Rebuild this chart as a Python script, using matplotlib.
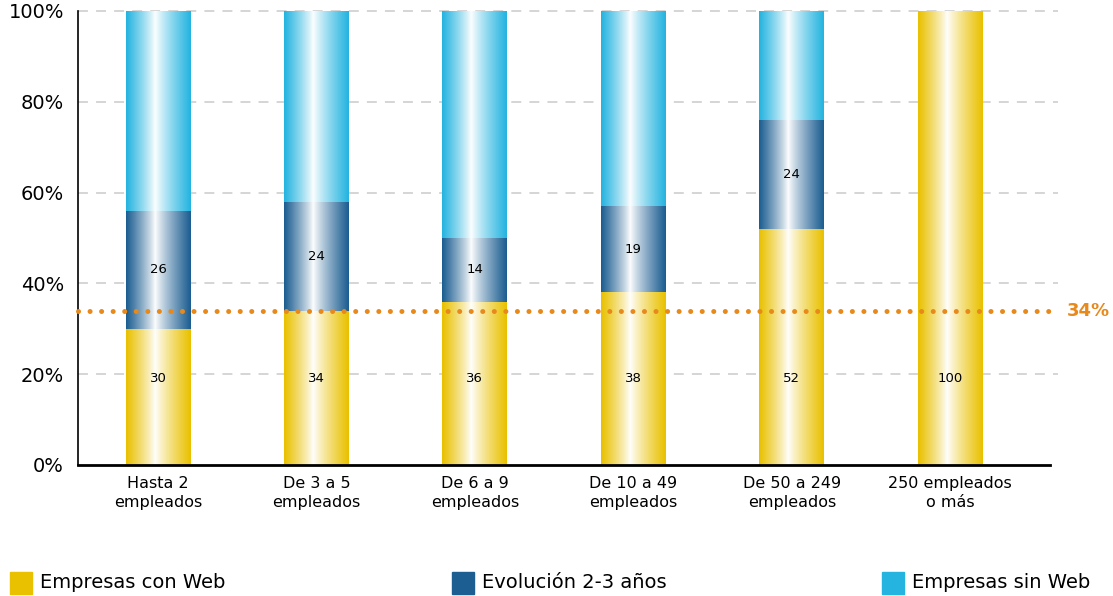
import numpy as np
import matplotlib
matplotlib.use('Agg')
import matplotlib.pyplot as plt
from matplotlib.colors import to_rgb

# Data (percent of companies)
categories = ['Hasta 2\nempleados', 'De 3 a 5\nempleados', 'De 6 a 9\nempleados',
              'De 10 a 49\nempleados', 'De 50 a 249\nempleados', '250 empleados\no más']
con_web = [30, 34, 36, 38, 52, 100]
evolucion = [26, 24, 14, 19, 24, 0]
sin_web = [44, 42, 50, 43, 24, 0]
media = 34

series_names = ['Empresas con Web', 'Evolución 2-3 años', 'Empresas sin Web']
colors = ['#E9C100', '#1C5E91', '#25B4E0']
orange = '#E8891C'

fig = plt.figure(figsize=(11.13, 5.96), dpi=100)
ax = fig.add_axes([78 / 1113, 1 - 465 / 596, 980 / 1113, 454 / 596])

x = np.arange(len(categories))
width = 0.41


def gradient_bar(ax, xc, bottom, height, color):
    # cylinder look: full colour at the edges, white near the middle
    if height <= 0:
        return
    t = np.linspace(0, 1, 64)
    d = np.where(t < 0.45, (0.45 - t) / 0.45, (t - 0.45) / 0.55)
    d = d ** 0.85
    c = np.array(to_rgb(color))
    img = (1 - d)[:, None] * np.ones(3) + d[:, None] * c
    ax.imshow(img[None, :, :], extent=[xc - width / 2, xc + width / 2, bottom, bottom + height],
              aspect='auto', interpolation='bilinear', zorder=2)


for i in x:
    bottoms = [0, con_web[i], con_web[i] + evolucion[i]]
    heights = [con_web[i], evolucion[i], sin_web[i]]
    for b, h, c in zip(bottoms, heights, colors):
        gradient_bar(ax, i, b, h, c)
    ax.text(i, 19, str(con_web[i]), ha='center', va='center', fontsize=9.5, zorder=4)
    if evolucion[i] > 0:
        ax.text(i, con_web[i] + evolucion[i] / 2, str(evolucion[i]),
                ha='center', va='center', fontsize=9.5, zorder=4)

ax.set_xlim(-0.505, 5.68)
ax.set_ylim(0, 100)

# gridlines
for yv in [20, 40, 60, 80, 100]:
    ax.axhline(yv, color='#D2D2D2', lw=1.3, ls=(0, (5.5, 4.5)), zorder=1, clip_on=False)

# average line
ax.axhline(media, color=orange, lw=3.6, ls=(0, (0.01, 2.3)), dash_capstyle='round',
           zorder=3, clip_on=False)
ax.text(1.009, media, f'{media}%', transform=ax.get_yaxis_transform(), color=orange,
        fontsize=13, fontweight='bold', va='center', ha='left')

ax.set_yticks([0, 20, 40, 60, 80, 100])
ax.set_yticklabels(['0%', '20%', '40%', '60%', '80%', '100%'], fontsize=14)
ax.set_xticks(x)
ax.set_xticklabels(categories, fontsize=11.5, linespacing=1.35)
ax.tick_params(length=0, pad=10)
ax.tick_params(axis='x', pad=8)

for s in ['top', 'right']:
    ax.spines[s].set_visible(False)
ax.spines['left'].set_linewidth(1.2)
ax.spines['bottom'].set_linewidth(2)
ax.spines['bottom'].set_bounds(-0.505, 5.63)

# legend drawn by hand at the bottom
legend_x = [10, 452, 882]
for lx, name, c in zip(legend_x, series_names, colors):
    fig.patches.append(plt.Rectangle((lx / 1113, 1 - 594 / 596), 22 / 1113, 22 / 596,
                                     transform=fig.transFigure, color=c))
    fig.text((lx + 30) / 1113, 1 - 583 / 596, name, fontsize=14, va='center', ha='left')

plt.savefig('out.png', dpi=100)
